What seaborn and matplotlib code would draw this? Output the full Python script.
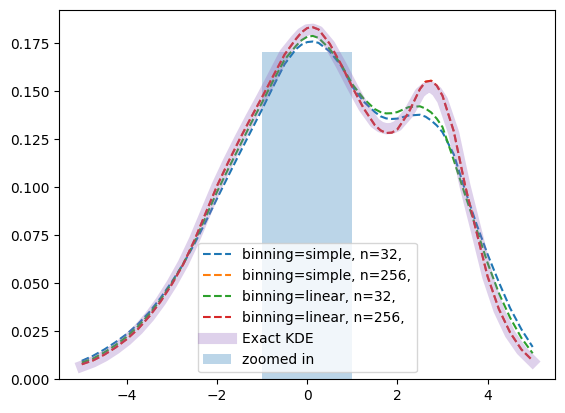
import numpy as np
import matplotlib
matplotlib.use("Agg")
import matplotlib.pyplot as plt
import seaborn as sns

# --- data ---
x_grid = [-5.0, -4.75, -4.5, -4.25, -4.0, -3.75, -3.5, -3.25, -3.0, -2.75,
          -2.5, -2.25, -2.0, -1.75, -1.5, -1.25, -1.0, -0.75, -0.5, -0.25,
          -0.125, 0.0, 0.125, 0.25, 0.5, 0.75, 1.0, 1.25, 1.5, 1.625,
          1.75, 1.875, 2.0, 2.25, 2.5, 2.625, 2.75, 2.875, 3.0, 3.25,
          3.5, 3.75, 4.0, 4.25, 4.5, 4.75, 5.0]

simple_32 = [0.0096, 0.0122, 0.0155, 0.0193, 0.0236, 0.0288, 0.0350, 0.0424, 0.0508, 0.0600,
             0.0705, 0.0820, 0.0940, 0.1058, 0.1175, 0.1290, 0.1405, 0.1525, 0.1640, 0.1717,
             0.1741, 0.1754, 0.1757, 0.1750, 0.1705, 0.1632, 0.1522, 0.1445, 0.1390, 0.1368,
             0.1357, 0.1354, 0.1356, 0.1372, 0.1376, 0.1366, 0.1346, 0.1320, 0.1285, 0.1170,
             0.0985, 0.0810, 0.0650, 0.0505, 0.0370, 0.0260, 0.0168]

simple_256 = [0.0078, 0.0098, 0.0128, 0.0165, 0.0209, 0.0262, 0.0328, 0.0405, 0.0495, 0.0598,
              0.0724, 0.0866, 0.1006, 0.1130, 0.1248, 0.1360, 0.1468, 0.1580, 0.1690, 0.1770,
              0.1805, 0.1827, 0.1831, 0.1820, 0.1745, 0.1638, 0.1520, 0.1410, 0.1322, 0.1295,
              0.1281, 0.1283, 0.1300, 0.1388, 0.1510, 0.1548, 0.1553, 0.1527, 0.1475, 0.1290,
              0.1010, 0.0770, 0.0535, 0.0365, 0.0243, 0.0155, 0.0097]

linear_32 = [0.0087, 0.0108, 0.0140, 0.0178, 0.0222, 0.0276, 0.0340, 0.0415, 0.0502, 0.0600,
             0.0715, 0.0845, 0.0975, 0.1095, 0.1212, 0.1330, 0.1440, 0.1555, 0.1663, 0.1734,
             0.1764, 0.1782, 0.1786, 0.1776, 0.1718, 0.1638, 0.1535, 0.1460, 0.1405, 0.1390,
             0.1383, 0.1384, 0.1390, 0.1416, 0.1420, 0.1408, 0.1388, 0.1355, 0.1312, 0.1140,
             0.0960, 0.0785, 0.0605, 0.0448, 0.0320, 0.0215, 0.0135]

linear_256 = [0.0078, 0.0098, 0.0128, 0.0165, 0.0209, 0.0262, 0.0328, 0.0405, 0.0495, 0.0598,
              0.0724, 0.0866, 0.1006, 0.1130, 0.1248, 0.1360, 0.1468, 0.1580, 0.1690, 0.1770,
              0.1805, 0.1827, 0.1831, 0.1820, 0.1745, 0.1638, 0.1520, 0.1410, 0.1322, 0.1295,
              0.1281, 0.1283, 0.1300, 0.1388, 0.1510, 0.1548, 0.1553, 0.1527, 0.1475, 0.1290,
              0.1010, 0.0770, 0.0535, 0.0365, 0.0243, 0.0155, 0.0097]

exact_kde = [0.0068, 0.0090, 0.0120, 0.0158, 0.0203, 0.0258, 0.0325, 0.0405, 0.0498, 0.0603,
             0.0727, 0.0868, 0.1008, 0.1133, 0.1250, 0.1362, 0.1470, 0.1582, 0.1695, 0.1768,
             0.1800, 0.1818, 0.1821, 0.1810, 0.1740, 0.1635, 0.1522, 0.1415, 0.1333, 0.1312,
             0.1303, 0.1305, 0.1318, 0.1385, 0.1490, 0.1515, 0.1520, 0.1497, 0.1452, 0.1280,
             0.1005, 0.0772, 0.0535, 0.0360, 0.0235, 0.0150, 0.0092]

series_labels = ["binning=simple, n=32,", "binning=simple, n=256,",
                 "binning=linear, n=32,", "binning=linear, n=256,"]
series_values = [simple_32, simple_256, linear_32, linear_256]

zoom_center = [0.0]
zoom_height = [0.17]
zoom_width = 2.0

# --- plot ---
fig, ax = plt.subplots(figsize=(6.4, 4.8), dpi=100)

colors = ["tab:blue", "tab:orange", "tab:green", "tab:red"]
for lab, vals, c in zip(series_labels, series_values, colors):
    sns.lineplot(x=x_grid, y=vals, ax=ax, color=c, linestyle="--", label=lab)

sns.lineplot(x=x_grid, y=exact_kde, ax=ax, color="tab:purple", alpha=0.3,
             linewidth=8, label="Exact KDE")

ax.bar(zoom_center, zoom_height, width=zoom_width, alpha=0.3, label="zoomed in")

ax.legend(loc="lower center")

plt.savefig("out.png", dpi=100, bbox_inches="tight")
